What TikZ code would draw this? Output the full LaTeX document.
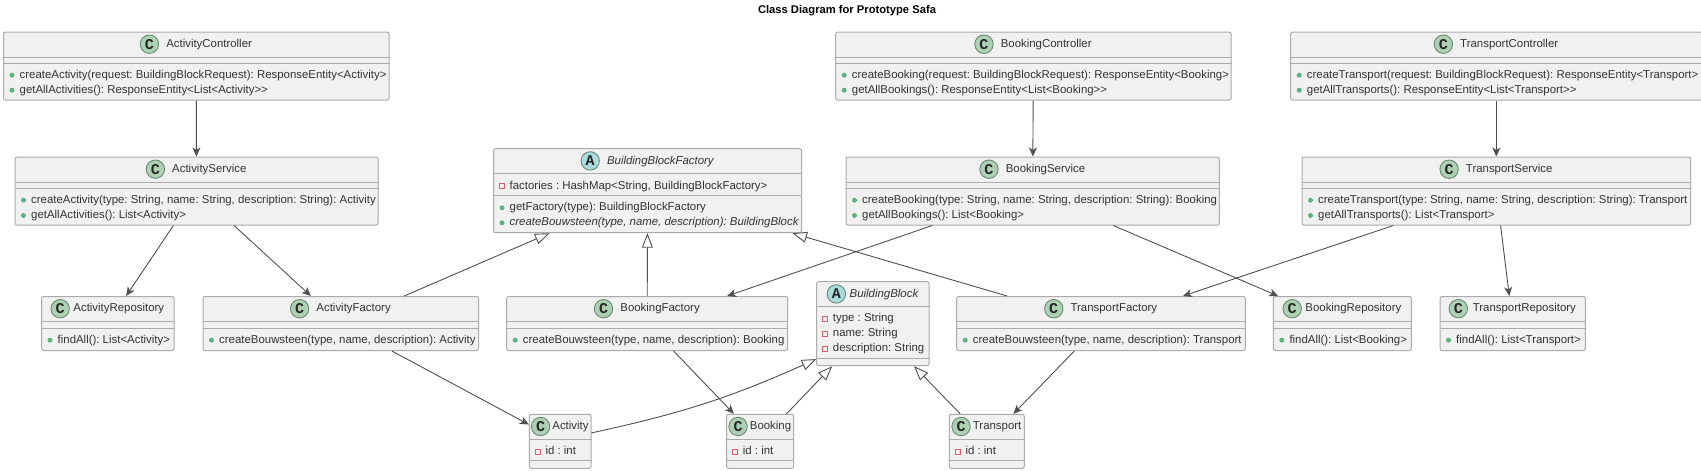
\documentclass[tikz,border=0pt]{standalone}
\usepackage{fontspec}
\setmainfont{Liberation Sans}
\newfontfamily\iconfont{Liberation Mono}
\usetikzlibrary{calc}
\usetikzlibrary{positioning}
\usetikzlibrary{arrows.meta}
\definecolor{boxfill}{HTML}{F1F1F1}
\definecolor{boxline}{HTML}{ABABAB}
\definecolor{edgeline}{HTML}{505050}
\definecolor{iconcfill}{HTML}{ADD1B2}
\definecolor{iconafill}{HTML}{A9DCDF}
\definecolor{iconline}{HTML}{6B8A72}
\definecolor{pubfill}{HTML}{5FB27C}
\definecolor{prifill}{HTML}{FBEDEE}
\definecolor{priline}{HTML}{D9636C}
\tikzset{
    classshape/.style = {rectangle, rounded corners=2, draw=boxline, line width=1, fill=boxfill, inner sep=0},
    classline/.style = {-,draw=boxline, line width=1},
    headC/.style = {inner sep=0, font=\fontsize{11.42}{14}\selectfont, text=black!80, text height=9, text depth=2.7},
    headA/.style = {headC, font=\fontsize{11.42}{14}\selectfont\itshape},
    iconC/.style = {circle, draw=iconline, line width=0.9, fill=iconcfill, minimum size=18.4, inner sep=0, font=\iconfont\bfseries\fontsize{15}{15}\selectfont, text=black!85},
    iconA/.style = {iconC, fill=iconafill},
    pubmark/.style = {circle, fill=pubfill, minimum size=5, inner sep=0, label distance=4.8},
    primark/.style = {rectangle, draw=priline, line width=0.9, fill=prifill, minimum size=5, inner sep=0, label distance=4.4},
    member/.style = {anchor=west, inner sep=0, font=\fontsize{11.42}{14}\selectfont, text=black!80, text height=9, text depth=2.7},
    pub/.style = {member, label={[pubmark]left:{}}},
    pri/.style = {member, label={[primark]left:{}}},
    absmember/.style = {pub, font=\fontsize{11.42}{14}\selectfont\itshape},
    edgeuse/.style = {-{Stealth[length=9,width=8,inset=2.5]}, line width=0.9, draw=edgeline},
    edgeinherit/.style = {-{Triangle[length=14.5,width=11,fill=white]}, line width=0.9, draw=edgeline}
}
% name, centre, width, height, second divider, kind, title, gap
\newcommand{\classbox}[8]{
\node[classshape, minimum width=#3, minimum height=#4] at (#2) (#1) {};
\node[head#6] at ($(#1.north)+({(18.7+#8)/2},12.7)$) (#1head) {#7};
\node[icon#6, left=#8 of #1head] (#1icon) {#6};
\draw[classline] ($(#1.north west)+(0,25.7)$) -- ($(#1.north east)+(0,25.7)$);
\draw[classline] ($(#1.north west)+(0,#5)$) -- ($(#1.north east)+(0,#5)$);
}
% style, name, box, row offset, text
\newcommand{\memberrow}[5]{
\node[#1] at ($(#3.north west)+(16.5,#4)$) (#2) {#5};
}

\begin{document}
\frenchspacing
\begin{tikzpicture}[x=1pt,y=-1pt]
\useasboundingbox (0,0) rectangle (1701,471);
%
\node[font=\fontsize{11.2}{13}\selectfont\bfseries, inner sep=0] at (847,10.5) (title) {Class Diagram for Prototype Safa};
%
\classbox{acontroller}{196.25,66}{385.5}{68}{31.5}{C}{ActivityController}{7}
\classbox{aservice}{196.5,191}{363}{68}{32}{C}{ActivityService}{7}
\classbox{arepo}{107.75,323.5}{132.5}{54}{32}{C}{ActivityRepository}{3.4}
\classbox{afactory}{340.75,323.5}{275.5}{54}{32}{C}{ActivityFactory}{7}
\classbox{bbfactory}{647.5,190.7}{308}{84}{47.3}{A}{BuildingBlockFactory}{7}
\classbox{bfactory}{647.2,323.5}{281}{54}{32}{C}{BookingFactory}{7}
\classbox{bblock}{872.85,323.7}{112.3}{84}{77.6}{A}{BuildingBlock}{3.5}
\classbox{tfactory}{1101,323.5}{288.6}{54}{32}{C}{TransportFactory}{7}
\classbox{bcontroller}{1033.35,66}{395.3}{68}{31.5}{C}{BookingController}{7}
\classbox{bservice}{1032.65,191}{373.3}{68}{32}{C}{BookingService}{7}
\classbox{brepo}{1342.3,323.5}{138}{54}{32}{C}{BookingRepository}{3.4}
\classbox{tcontroller}{1496.35,66}{411.3}{68}{31.5}{C}{TransportController}{7}
\classbox{tservice}{1496.35,191}{388.7}{68}{32}{C}{TransportService}{7}
\classbox{trepo}{1512.65,323.5}{145.3}{54}{32}{C}{TransportRepository}{4.7}
\classbox{activity}{560.15,441.3}{61.7}{54}{47}{C}{Activity}{2}
\classbox{booking}{760.2,441.3}{67}{54}{47}{C}{Booking}{2}
\classbox{transport}{986.8,441.3}{75}{54}{47}{C}{Transport}{2}
%
\memberrow{pub}{acontrollera}{acontroller}{43.7}{createActivity(request: BuildingBlockRequest): ResponseEntity<Activity>}
\memberrow{pub}{acontrollerb}{acontroller}{58.7}{getAllActivities(): ResponseEntity<List<Activity>{}>}
\memberrow{pub}{aservicea}{aservice}{43.7}{createActivity(type: String, name: String, description: String): Activity}
\memberrow{pub}{aserviceb}{aservice}{59}{getAllActivities(): List<Activity>}
\memberrow{pub}{arepoa}{arepo}{44.2}{findAll(): List<Activity>}
\memberrow{pub}{afactorya}{afactory}{44.2}{createBouwsteen(type, name, description): Activity}
\memberrow{pri}{bbfactorya}{bbfactory}{38}{factories : HashMap<String, BuildingBlockFactory>}
\memberrow{pub}{bbfactoryb}{bbfactory}{59.6}{getFactory(type): BuildingBlockFactory}
\memberrow{absmember}{bbfactoryc}{bbfactory}{74.6}{createBouwsteen(type, name, description): BuildingBlock}
\memberrow{pub}{bfactorya}{bfactory}{44.2}{createBouwsteen(type, name, description): Booking}
\memberrow{pri}{bblocka}{bblock}{37.6}{type : String}
\memberrow{pri}{bblockb}{bblock}{52.6}{name: String}
\memberrow{pri}{bblockc}{bblock}{67.6}{description: String}
\memberrow{pub}{tfactorya}{tfactory}{44.2}{createBouwsteen(type, name, description): Transport}
\memberrow{pub}{bcontrollera}{bcontroller}{43.7}{createBooking(request: BuildingBlockRequest): ResponseEntity<Booking>}
\memberrow{pub}{bcontrollerb}{bcontroller}{58.7}{getAllBookings(): ResponseEntity<List<Booking>{}>}
\memberrow{pub}{bservicea}{bservice}{43.7}{createBooking(type: String, name: String, description: String): Booking}
\memberrow{pub}{bserviceb}{bservice}{59}{getAllBookings(): List<Booking>}
\memberrow{pub}{brepoa}{brepo}{44.2}{findAll(): List<Booking>}
\memberrow{pub}{tcontrollera}{tcontroller}{43.7}{createTransport(request: BuildingBlockRequest): ResponseEntity<Transport>}
\memberrow{pub}{tcontrollerb}{tcontroller}{58.7}{getAllTransports(): ResponseEntity<List<Transport>{}>}
\memberrow{pub}{tservicea}{tservice}{43.7}{createTransport(type: String, name: String, description: String): Transport}
\memberrow{pub}{tserviceb}{tservice}{59}{getAllTransports(): List<Transport>}
\memberrow{pub}{trepoa}{trepo}{44.2}{findAll(): List<Transport>}
\memberrow{pri}{activitya}{activity}{37.7}{id : int}
\memberrow{pri}{bookinga}{booking}{37.7}{id : int}
\memberrow{pri}{transporta}{transport}{37.7}{id : int}
%
\draw[edgeuse] (acontroller) -- (aservice);
\draw[edgeuse] (aservice) -- (arepo);
\draw[edgeuse] (aservice) -- (afactory);
\draw[edgeuse] (bcontroller) -- (bservice);
\draw[edgeuse] (bservice) -- (bfactory);
\draw[edgeuse] (bservice) -- (brepo);
\draw[edgeuse] (tcontroller) -- (tservice);
\draw[edgeuse] (tservice) -- (tfactory);
\draw[edgeuse] (tservice) -- (trepo);
\draw[edgeuse] (afactory) -- (activity);
\draw[edgeuse] (bfactory) -- (booking);
\draw[edgeuse] (tfactory) -- (transport);
%
\draw[edgeinherit] (afactory) -- (bbfactory);
\draw[edgeinherit] (bfactory) -- (bbfactory);
\draw[edgeinherit] (tfactory) -- (bbfactory);
\draw[edgeinherit] (activity.15) to[bend right=6] (bblock.212);
\draw[edgeinherit] (booking) -- (bblock);
\draw[edgeinherit] (transport) -- (bblock);

\end{tikzpicture}
\end{document}
